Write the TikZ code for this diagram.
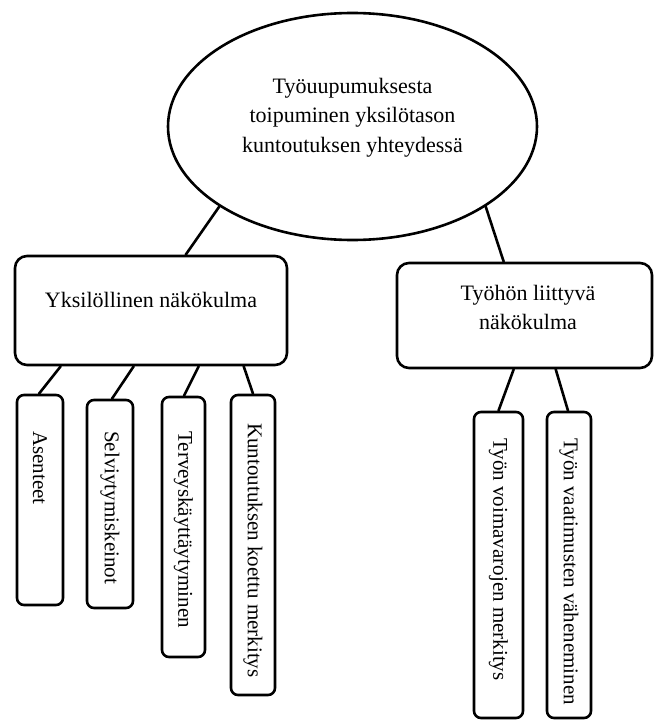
\documentclass[tikz,border=0pt]{standalone}
\usepackage{fontspec}
\setmainfont{Liberation Serif}
\usetikzlibrary{shapes.geometric,calc}
\begin{document}
\begin{tikzpicture}[x=1pt,y=-1pt,
  line width=2.6pt,
  every node/.style={font=\fontsize{21}{29.5}\selectfont},
  topoval/.style={draw, ellipse, inner sep=0pt},
  bigbox/.style={draw, rounded corners=12pt, inner sep=0pt},
  vbox/.style={draw, rounded corners=7pt, inner sep=0pt},
  label text/.style={align=center, inner sep=0pt, font=\fontsize{22}{29.5}\selectfont},
  vtext/.style={rotate=-90, anchor=west, inner sep=0pt},
  link/.style={line cap=round}]
\useasboundingbox (0,0) rectangle (654,720);

% top ellipse
\node[topoval, minimum width=369pt, minimum height=227pt] (root) at (352.5,126.5) {};
\node[label text] (roottxt) at (352.5,117.5) {Työuupumuksesta\\toipuminen yksilötason\\kuntoutuksen yhteydessä};

% second level
\node[bigbox, minimum width=272pt, minimum height=109pt] (yk) at (151,310.5) {};
\node[label text] (yktxt) at (151,300) {Yksilöllinen näkökulma};
\node[bigbox, minimum width=255pt, minimum height=105pt] (tyo) at (524.5,315.5) {};
\node[label text] (tyotxt) at (528,307.5) {Työhön liittyvä\\näkökulma};

% third level boxes
\node[vbox, minimum width=46pt, minimum height=210pt] (a) at (40,500) {};
\node[vbox, minimum width=46pt, minimum height=208pt] (s) at (110,504) {};
\node[vbox, minimum width=43pt, minimum height=260pt] (t) at (183.5,527) {};
\node[vbox, minimum width=44pt, minimum height=300pt] (k) at (253,545) {};
\node[vbox, minimum width=49pt, minimum height=306pt] (v) at (498.5,565) {};
\node[vbox, minimum width=44pt, minimum height=306pt] (w) at (569,565) {};

% rotated texts
\node[vtext] (atxt) at (40,430) {Asenteet};
\node[vtext] (stxt) at (110,430) {Selviytymiskeinot};
\node[vtext] (ttxt) at (183.5,430) {Terveyskäyttäytyminen};
\node[vtext] (ktxt) at (253,422) {Kuntoutuksen koettu merkitys};
\node[vtext] (vtxt) at (498.5,437) {Työn voimavarojen merkitys};
\node[vtext] (wtxt) at (569,437) {Työn vaatimusten väheneminen};

% connectors
\draw[link] (root.211.7) -- ([xshift=172pt]yk.north west);
\draw[link] (root.329.6) -- ([xshift=108pt]tyo.north west);
\draw[link] ([xshift=47pt]yk.south west) -- ([xshift=-1pt]a.north);
\draw[link] ([xshift=120pt]yk.south west) -- ([xshift=2pt]s.north);
\draw[link] ([xshift=185pt]yk.south west) -- ([xshift=0.5pt]t.north);
\draw[link] ([xshift=230pt]yk.south west) -- (k.north);
\draw[link] ([xshift=118pt]tyo.south west) -- (v.north);
\draw[link] ([xshift=160pt]tyo.south west) -- ([xshift=-1pt]w.north);
\end{tikzpicture}
\end{document}
